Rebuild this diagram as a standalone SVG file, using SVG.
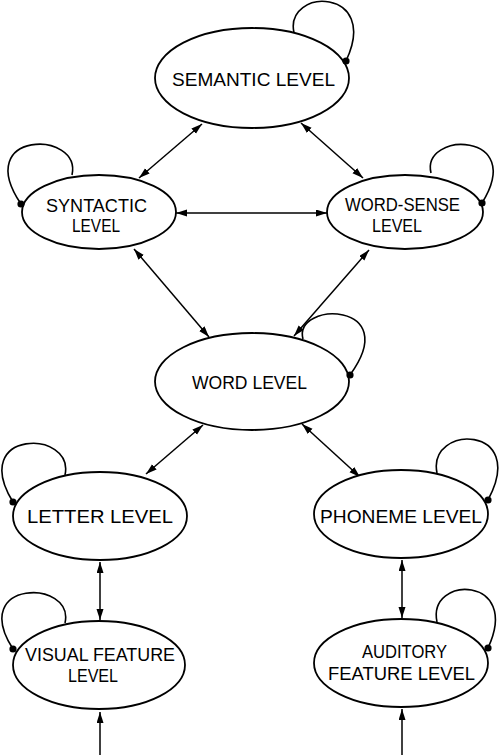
<svg xmlns="http://www.w3.org/2000/svg" width="501" height="755" viewBox="0 0 501 755">
<style>
.node ellipse{fill:#fff;stroke:#000;stroke-width:1.8}
.loop{fill:none;stroke:#000;stroke-width:1.6}
.dot{fill:#000}
.lbl{font-family:"Liberation Sans",Arial,sans-serif;font-size:19px;fill:#000}
#connectors line{stroke:#000;stroke-width:1.5}
</style>
<defs>
<marker id="ah" markerUnits="userSpaceOnUse" markerWidth="12" markerHeight="8" refX="11" refY="3.5" orient="auto-start-reverse">
<path d="M0,0 L11,3.5 L0,7 z" fill="#000"/>
</marker>
</defs>
<rect width="501" height="755" fill="#fff"/>
<g id="connectors">
<line x1="202" y1="124" x2="139" y2="178" marker-start="url(#ah)" marker-end="url(#ah)"/>
<line x1="301" y1="123" x2="363" y2="178" marker-start="url(#ah)" marker-end="url(#ah)"/>
<line x1="176" y1="213" x2="327" y2="213" marker-start="url(#ah)" marker-end="url(#ah)"/>
<line x1="134" y1="249" x2="209" y2="337" marker-start="url(#ah)" marker-end="url(#ah)"/>
<line x1="369" y1="250" x2="294" y2="336" marker-start="url(#ah)" marker-end="url(#ah)"/>
<line x1="203" y1="425" x2="146" y2="474" marker-start="url(#ah)" marker-end="url(#ah)"/>
<line x1="302" y1="424" x2="360" y2="477" marker-start="url(#ah)" marker-end="url(#ah)"/>
<line x1="100" y1="562" x2="100" y2="620" marker-start="url(#ah)" marker-end="url(#ah)"/>
<line x1="402" y1="560" x2="402" y2="618" marker-start="url(#ah)" marker-end="url(#ah)"/>
<line x1="100" y1="755" x2="100" y2="712" marker-end="url(#ah)"/>
<line x1="402" y1="755" x2="402" y2="709" marker-end="url(#ah)"/>
</g>
<g id="semantic" class="node">
<path class="loop" d="M294,33 C284,-13 381,-13 346,61"/>
<ellipse cx="252" cy="78" rx="97" ry="50"/>
<circle class="dot" cx="346" cy="61" r="3.6"/>
<text class="lbl" x="172" y="86" textLength="163" lengthAdjust="spacingAndGlyphs">SEMANTIC LEVEL</text>
</g>
<g id="syntactic" class="node">
<path class="loop" d="M72,175 C82,130 -29,130 21,204"/>
<ellipse cx="99" cy="212" rx="77" ry="37"/>
<circle class="dot" cx="21" cy="204" r="3.6"/>
<text class="lbl" x="46" y="212" textLength="101" lengthAdjust="spacingAndGlyphs">SYNTACTIC</text>
<text class="lbl" x="72" y="232" textLength="48" lengthAdjust="spacingAndGlyphs">LEVEL</text>
</g>
<g id="wordsense" class="node">
<path class="loop" d="M431,173 C421,131 527,131 482,203"/>
<ellipse cx="405" cy="212" rx="78" ry="37"/>
<circle class="dot" cx="482" cy="203" r="3.6"/>
<text class="lbl" x="345" y="211" textLength="115" lengthAdjust="spacingAndGlyphs">WORD-SENSE</text>
<text class="lbl" x="372" y="232" textLength="50" lengthAdjust="spacingAndGlyphs">LEVEL</text>
</g>
<g id="word" class="node">
<path class="loop" d="M303,339 C293,301 404,301 350,375"/>
<ellipse cx="252" cy="381.5" rx="97" ry="48.5"/>
<circle class="dot" cx="350" cy="375" r="3.6"/>
<text class="lbl" x="192" y="389" textLength="115" lengthAdjust="spacingAndGlyphs">WORD LEVEL</text>
</g>
<g id="letter" class="node">
<path class="loop" d="M65,475 C75,429 -32,429 13,502"/>
<ellipse cx="100" cy="516" rx="87" ry="44"/>
<circle class="dot" cx="13" cy="502" r="3.6"/>
<text class="lbl" x="27" y="523" textLength="146" lengthAdjust="spacingAndGlyphs">LETTER LEVEL</text>
</g>
<g id="phoneme" class="node">
<path class="loop" d="M437,473 C427,424 529,424 488,500"/>
<ellipse cx="401" cy="514" rx="87" ry="44"/>
<circle class="dot" cx="488" cy="500" r="3.6"/>
<text class="lbl" x="320" y="523" textLength="162" lengthAdjust="spacingAndGlyphs">PHONEME LEVEL</text>
</g>
<g id="visual" class="node">
<path class="loop" d="M65,623 C75,579 -32,579 13,649"/>
<ellipse cx="99" cy="665" rx="86" ry="44"/>
<circle class="dot" cx="13" cy="649" r="3.6"/>
<text class="lbl" x="25" y="661" textLength="150" lengthAdjust="spacingAndGlyphs">VISUAL FEATURE</text>
<text class="lbl" x="68" y="682" textLength="50" lengthAdjust="spacingAndGlyphs">LEVEL</text>
</g>
<g id="auditory" class="node">
<path class="loop" d="M437,622 C427,575 522,575 488,648"/>
<ellipse cx="401" cy="663" rx="87" ry="44"/>
<circle class="dot" cx="488" cy="648" r="3.6"/>
<text class="lbl" x="362" y="658" textLength="85" lengthAdjust="spacingAndGlyphs">AUDITORY</text>
<text class="lbl" x="328" y="680" textLength="147" lengthAdjust="spacingAndGlyphs">FEATURE LEVEL</text>
</g>
</svg>
